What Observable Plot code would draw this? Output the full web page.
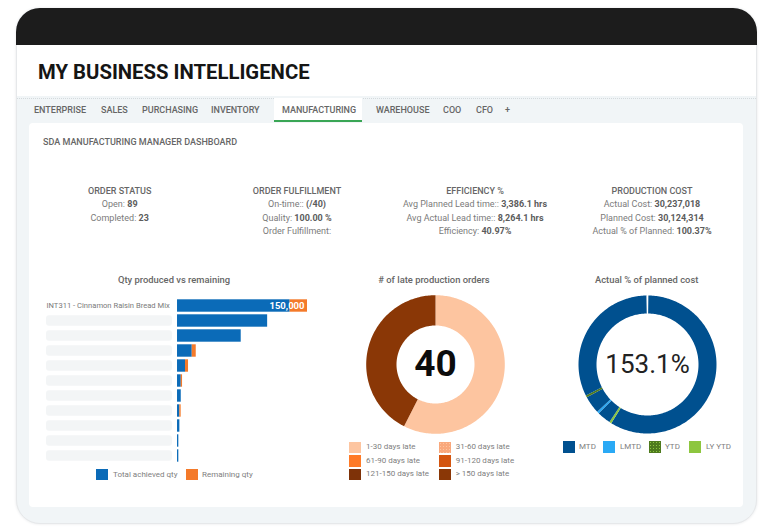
<!DOCTYPE html>
<html><head><meta charset="utf-8">
<script src="https://cdn.jsdelivr.net/npm/d3@7"></script>
<script src="https://cdn.jsdelivr.net/npm/@observablehq/plot@0.6"></script>
<style>
html,body{margin:0;padding:0;background:#fff;width:768px;height:527px;overflow:hidden;font-family:Roboto,sans-serif}
.a{position:absolute;white-space:nowrap}
#frame{left:16px;top:8px;width:741px;height:516px;box-sizing:border-box;border:1px solid #e6e8ea;border-radius:24px;background:#f1f5f7;overflow:hidden;box-shadow:0 0 3px #e4e6e8}
#black{left:16px;top:8px;width:741px;height:37px;background:#1c1c1c;border-radius:24px 24px 0 0}
#band{left:17px;top:45px;width:739px;height:51px;background:#fff}
#dots{left:17px;top:96px;width:739px;height:2px;border-bottom:1px dotted #d4dadd}
#panel{left:29px;top:123px;width:714px;height:384px;background:#fff;border-radius:4px}
#active{left:274px;top:98px;width:88px;height:24px;background:#fff;border-bottom:2px solid #3aa655;box-sizing:border-box}
#title{left:38px;top:59px;font:700 20.3px/26px Roboto;color:#151515}
.tab{top:105px;font:500 9px/11px Roboto;color:#666}
#sda{left:43px;top:137px;font:500 9px/11px Roboto;color:#666}
.kpi{transform:translateX(-50%);text-align:center;top:184.5px;font:400 9px/13.5px Roboto;color:#7b7b7b}
.kpi b{font-weight:700;color:#5c5c5c}
.kpi .h{font-weight:500;color:#666}
.ct{transform:translateX(-50%);top:274px;font:500 9.4px/12px Roboto;color:#666}
.sw{width:11.5px;height:11.5px}
.lg{font:400 8px/10px Roboto;color:#808080;transform:translateY(-50%)}
svg{display:block;background:transparent}
</style></head><body>
<div class="a" id="frame"></div><div class="a" id="black"></div><div class="a" id="band"></div><div class="a" id="dots"></div>
<div class="a" id="panel"></div><div class="a" id="active"></div>
<div class="a" id="title">MY BUSINESS INTELLIGENCE</div>
<div class="a" id="sda">SDA MANUFACTURING MANAGER DASHBOARD</div>
<div id="dyn"></div>
<div class="a" id="bars" style="left:46px;top:292.75px"></div>
<div class="a" id="d1" style="left:363.5px;top:292.5px"></div>
<div class="a" id="d2" style="left:575.7px;top:292.5px"></div>
<script>
// ---------- data ----------
const tabs = ["ENTERPRISE","SALES","PURCHASING","INVENTORY","MANUFACTURING","WAREHOUSE","COO","CFO","+"];
const tabX = [34,101,142,211,282,376,443,476,505];
const kpiTitles = ["ORDER STATUS","ORDER FULFILLMENT","EFFICIENCY %","PRODUCTION COST"];
const kpiRows = [
  [["Open: ","89"],["Completed: ","23"]],
  [["On-time:: ","(/40)"],["Quality: ","100.00 %"],["Order Fulfillment:",""]],
  [["Avg Planned Lead time:: ","3,386.1 hrs"],["Avg Actual Lead time:: ","8,264.1 hrs"],["Efficiency: ","40.97%"]],
  [["Actual Cost: ","30,237,018"],["Planned Cost: ","30,124,314"],["Actual % of Planned: ","100.37%"]]
];
const kpiX = [119.7,297,475,652];
const rows = d3.range(11);
const rowLabels = ["INT311 - Cinnamon Raisin Bread Mix"];
const achieved = [130000,104000,73500,17000,9200,4300,4300,2700,2700,1500,1500];
const remaining = [20000,0,0,4600,3500,1500,0,1500,0,0,0];
const barTotalLabel = ["150,000"];
const lateCats = ["1-30 days late","31-60 days late","61-90 days late","91-120 days late","121-150 days late","> 150 days late"];
const lateVals = [23,0,0,0,0,17];
const lateCols = ["#fdc5a0","#f9a87c","#ff7a26","#d4550f","#7e3208","#8a3706"];
const costCats = ["MTD","LMTD","YTD","LY YTD"];
const costCols = ["#00508f","#2aa9f5","#4e7a1e","#8dc63f"];
const costSegCats = ["gap","MTD","LY YTD","MTD","LMTD","MTD","YTD","MTD","gap"];
const costSegVals = [0.2,58.6,0.5,3.2,0.5,4.1,0.5,32.2,0.2];

// ---------- chrome ----------
const dyn = document.getElementById("dyn");
const add = (cls,html,style)=>{const e=document.createElement("div");e.className="a "+cls;e.innerHTML=html;e.style.cssText=style||"";dyn.appendChild(e);return e;};
tabs.forEach((t,i)=>add("tab",t,`left:${tabX[i]}px`));
kpiTitles.forEach((t,i)=>{
  const lines = [`<span class="h">${t}</span>`].concat(kpiRows[i].map(([a,b])=>`${a}<b>${b}</b>`));
  add("kpi",lines.join("<br>"),`left:${kpiX[i]}px`);
});
[["Qty produced vs remaining",174],["# of late production orders",434],["Actual % of planned cost",646.7]].forEach(([t,x])=>add("ct",t,`left:${x}px`));
const legend=(x,y,c,t,tx,extra)=>{
  add("sw","",`left:${x}px;top:${y-5.75}px;background:${c};${extra||""}`);
  add("lg",t,`left:${tx}px;top:${y}px`);
};
legend(96,474.7,"#0b6bb8","Total achieved qty",113);
legend(186,474.7,"#f47a2a","Remaining qty",202);
lateCats.forEach((c,i)=>{
  const col=i%2, row=Math.floor(i/2);
  const extra = i===1 ? "background-image:radial-gradient(#fdc5a0 30%,transparent 35%);background-size:3px 3px" : "";
  legend(col?439:349,[447.3,461,474.3][row],lateCols[i],c,col?455.7:366,extra);
});
costCats.forEach((c,i)=>{
  const extra = i===2 ? "background-image:radial-gradient(#8dc63f 30%,transparent 35%);background-size:3px 3px" : "";
  legend([563,603,649,689][i],447,costCols[i],c,[579,620,665,706][i],extra);
});

// ---------- bars ----------
const barData = rows.flatMap(i=>[{row:i,s:"Total achieved qty",v:achieved[i]},{row:i,s:"Remaining qty",v:remaining[i]}]);
const boxLeft=-151200, boxRight=-5800;
document.getElementById("bars").append(Plot.plot({
  width:261,height:175,margin:0,
  x:{domain:[boxLeft,150000],axis:null},
  y:{domain:rows,axis:null,padding:0},
  color:{domain:["Total achieved qty","Remaining qty"],range:["#0b6bb8","#f47a2a"]},
  style:{background:"transparent"},
  marks:[
    Plot.rect(rows.slice(1),{x1:()=>boxLeft,x2:()=>boxRight,y:d=>d,fill:"#f3f5f6",rx:3,insetTop:2.2,insetBottom:2.2}),
    Plot.barX(barData,{x:"v",y:"row",fill:"s",order:null,insetTop:1.3,insetBottom:1.3}),
    Plot.text(rowLabels,{x:()=>boxLeft,y:()=>0,text:d=>d,textAnchor:"start",fontSize:7.6,fill:"#7a7a7a",fontFamily:"Roboto"}),
    Plot.text(barTotalLabel,{x:()=>150000,y:()=>0,text:d=>d,textAnchor:"end",dx:-3,fontSize:9.5,fontWeight:700,fill:"#fff",fontFamily:"Roboto"})
  ]
}));

// ---------- donuts ----------
function ring(vals,cats,inner){
  const total=d3.sum(vals);let acc=0;const pts=[];
  vals.forEach((v,i)=>{
    if(!v){return;}
    const a0=acc/total*2*Math.PI,a1=(acc+v)/total*2*Math.PI;acc+=v;
    const n=Math.max(2,Math.ceil((a1-a0)/0.02));
    const ang=d3.range(n+1).map(k=>a0+(a1-a0)*k/n);
    ang.forEach(a=>pts.push({x:Math.sin(a),y:Math.cos(a),slice:i,cat:cats[i]}));
    ang.slice().reverse().forEach(a=>pts.push({x:inner*Math.sin(a),y:inner*Math.cos(a),slice:i,cat:cats[i]}));
  });
  return pts;
}
function donut(id,R,vals,cats,domain,range,inner,label,font){
  document.getElementById(id).append(Plot.plot({
    width:142,height:142,margin:0,
    x:{domain:[-71/R,71/R],axis:null},
    y:{domain:[-71/R,71/R],axis:null},
    color:{domain,range},
    style:{background:"transparent"},
    marks:[
      Plot.line(ring(vals,cats,inner),{x:"x",y:"y",z:"slice",fill:"cat",stroke:null,strokeWidth:0}),
      Plot.text([label],{frameAnchor:"middle",text:d=>d,...font})
    ]
  }));
}
donut("d1",69.3,lateVals,lateCats,lateCats,lateCols,39/69.3,"40",{fontSize:37,fontWeight:700,fill:"#0c0c0c",fontFamily:"Roboto"});
donut("d2",69,costSegVals,costSegCats,costCats.concat("gap"),costCols.concat("#ffffff"),51/69,"153.1%",{fontSize:26,fontWeight:400,fill:"#222",fontFamily:"Roboto"});
</script>
</body></html>
